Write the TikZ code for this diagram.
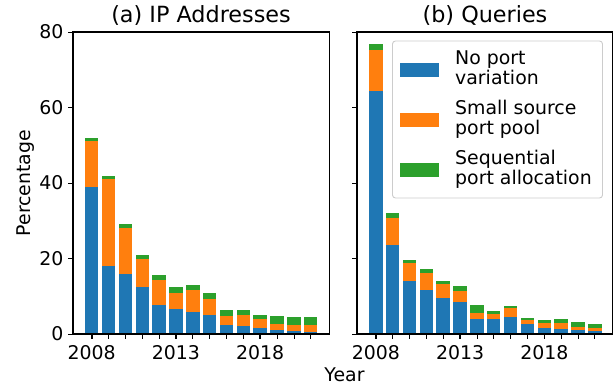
\documentclass[tikz,border=0pt]{standalone}
\usepackage{fontspec}
\setmainfont{DejaVu Sans}
\definecolor{tabblue}{HTML}{1F77B4}
\definecolor{taborange}{HTML}{FF7F0E}
\definecolor{tabgreen}{HTML}{2CA02C}
\definecolor{legendgray}{HTML}{CCCCCC}
\begin{document}
\begin{tikzpicture}[x=1pt,y=1pt,
  frame/.style={line width=1.2pt, black},
  majortick/.style={line width=1.6pt, black},
  minortick/.style={line width=0.8pt, black},
  ticklabel/.style={font=\fontsize{18.9}{21}\selectfont, inner sep=0pt},
  axlabel/.style={font=\fontsize{18.9}{21}\selectfont, inner sep=0pt},
  paneltitle/.style={font=\fontsize{22.3}{25}\selectfont, inner sep=0pt},
  legendbox/.style={draw=legendgray, fill=white, rounded corners=3pt, line width=0.9pt},
  legendtext/.style={font=\fontsize{18.9}{20.5}\selectfont, inner sep=0pt, align=left, anchor=base west}
]
\useasboundingbox (0,0) rectangle (615,386);

% ---------- bars, panel (a) ----------
\foreach \i/\b/\o/\g in {0/38.9/51.1/51.9, 1/18.0/41.0/41.8, 2/15.9/28.1/29.1, 3/12.4/19.8/20.9,
  4/7.7/14.3/15.6, 5/6.6/10.9/12.4, 6/5.8/11.6/13.0, 7/5.0/9.3/10.9, 8/2.4/4.8/6.35,
  9/2.1/5.0/6.35, 10/1.6/4.0/5.0, 11/1.1/2.65/4.76, 12/0.8/2.4/4.5, 13/0.55/2.4/4.5}{
  \pgfmathsetmacro\xc{91.7+16.85*\i}
  \fill[tabblue] ({\xc-6.74},52) rectangle ({\xc+6.74},{52+3.775*\b});
  \fill[taborange] ({\xc-6.74},{52+3.775*\b}) rectangle ({\xc+6.74},{52+3.775*\o});
  \fill[tabgreen] ({\xc-6.74},{52+3.775*\o}) rectangle ({\xc+6.74},{52+3.775*\g});
}
% ---------- bars, panel (b) ----------
\foreach \i/\b/\o/\g in {0/64.3/75.1/76.7, 1/23.6/30.8/32.1, 2/14.1/18.8/19.6, 3/11.7/16.2/17.2,
  4/9.55/13.3/14.1, 5/8.5/11.4/12.7, 6/4.0/5.6/7.7, 7/4.0/5.3/6.1, 8/4.5/6.9/7.4,
  9/2.65/3.7/4.2, 10/1.6/2.9/3.7, 11/1.3/2.9/4.0, 12/1.06/1.86/3.2, 13/0.8/1.6/2.65}{
  \pgfmathsetmacro\xc{375.8+16.85*\i}
  \fill[tabblue] ({\xc-6.74},52) rectangle ({\xc+6.74},{52+3.775*\b});
  \fill[taborange] ({\xc-6.74},{52+3.775*\b}) rectangle ({\xc+6.74},{52+3.775*\o});
  \fill[tabgreen] ({\xc-6.74},{52+3.775*\o}) rectangle ({\xc+6.74},{52+3.775*\g});
}

% ---------- frames ----------
\draw[frame] (73,52) rectangle (329.5,354);
\draw[frame] (357,52) rectangle (612.5,354);

% ---------- x ticks ----------
\foreach \i in {0,...,13}{
  \pgfmathsetmacro\xa{91.7+16.85*\i}
  \pgfmathsetmacro\xb{375.8+16.85*\i}
  \draw[minortick] (\xa,52) -- (\xa,47);
  \draw[minortick] (\xb,52) -- (\xb,47);
}
\foreach \i/\yr in {0/2008,5/2013,10/2018}{
  \pgfmathsetmacro\xa{91.7+16.85*\i}
  \pgfmathsetmacro\xb{375.8+16.85*\i}
  \draw[majortick] (\xa,52) -- (\xa,47);
  \draw[majortick] (\xb,52) -- (\xb,47);
  \node[ticklabel, anchor=base] (xla\yr) at (\xa,26.7) {\yr};
  \node[ticklabel, anchor=base] (xlb\yr) at (\xb,26.7) {\yr};
}

% ---------- y ticks ----------
\foreach \v in {0,20,40,60,80}{
  \draw[minortick] (73,{52+3.775*\v}) -- (68,{52+3.775*\v});
  \draw[minortick] (357,{52+3.775*\v}) -- (352,{52+3.775*\v});
  \node[ticklabel, anchor=east] (yl\v) at (63.5,{52+3.775*\v}) {\v};
}

% ---------- titles and axis labels ----------
\node[paneltitle, anchor=base] (ta) at (201,363.3) {(a) IP Addresses};
\node[paneltitle, anchor=base] (tb) at (485,363.3) {(b) Queries};
\node[axlabel, anchor=base] (xlab) at (344.5,4.3) {Year};
\node[axlabel, anchor=base, rotate=90] (ylab) at (30,203) {Percentage};

% ---------- legend ----------
\draw[legendbox] (392.5,345) rectangle (602.5,188);
\fill[tabblue] (400,309.3) rectangle (439,322.7);
\fill[taborange] (400,259.3) rectangle (439,272.7);
\fill[tabgreen] (400,209.3) rectangle (439,222.7);
\node[legendtext] (l1) at (455,301) {No port\\variation};
\node[legendtext] (l2) at (455,251) {Small source\\port pool};
\node[legendtext] (l3) at (455,201) {Sequential\\port allocation};
\end{tikzpicture}
\end{document}
